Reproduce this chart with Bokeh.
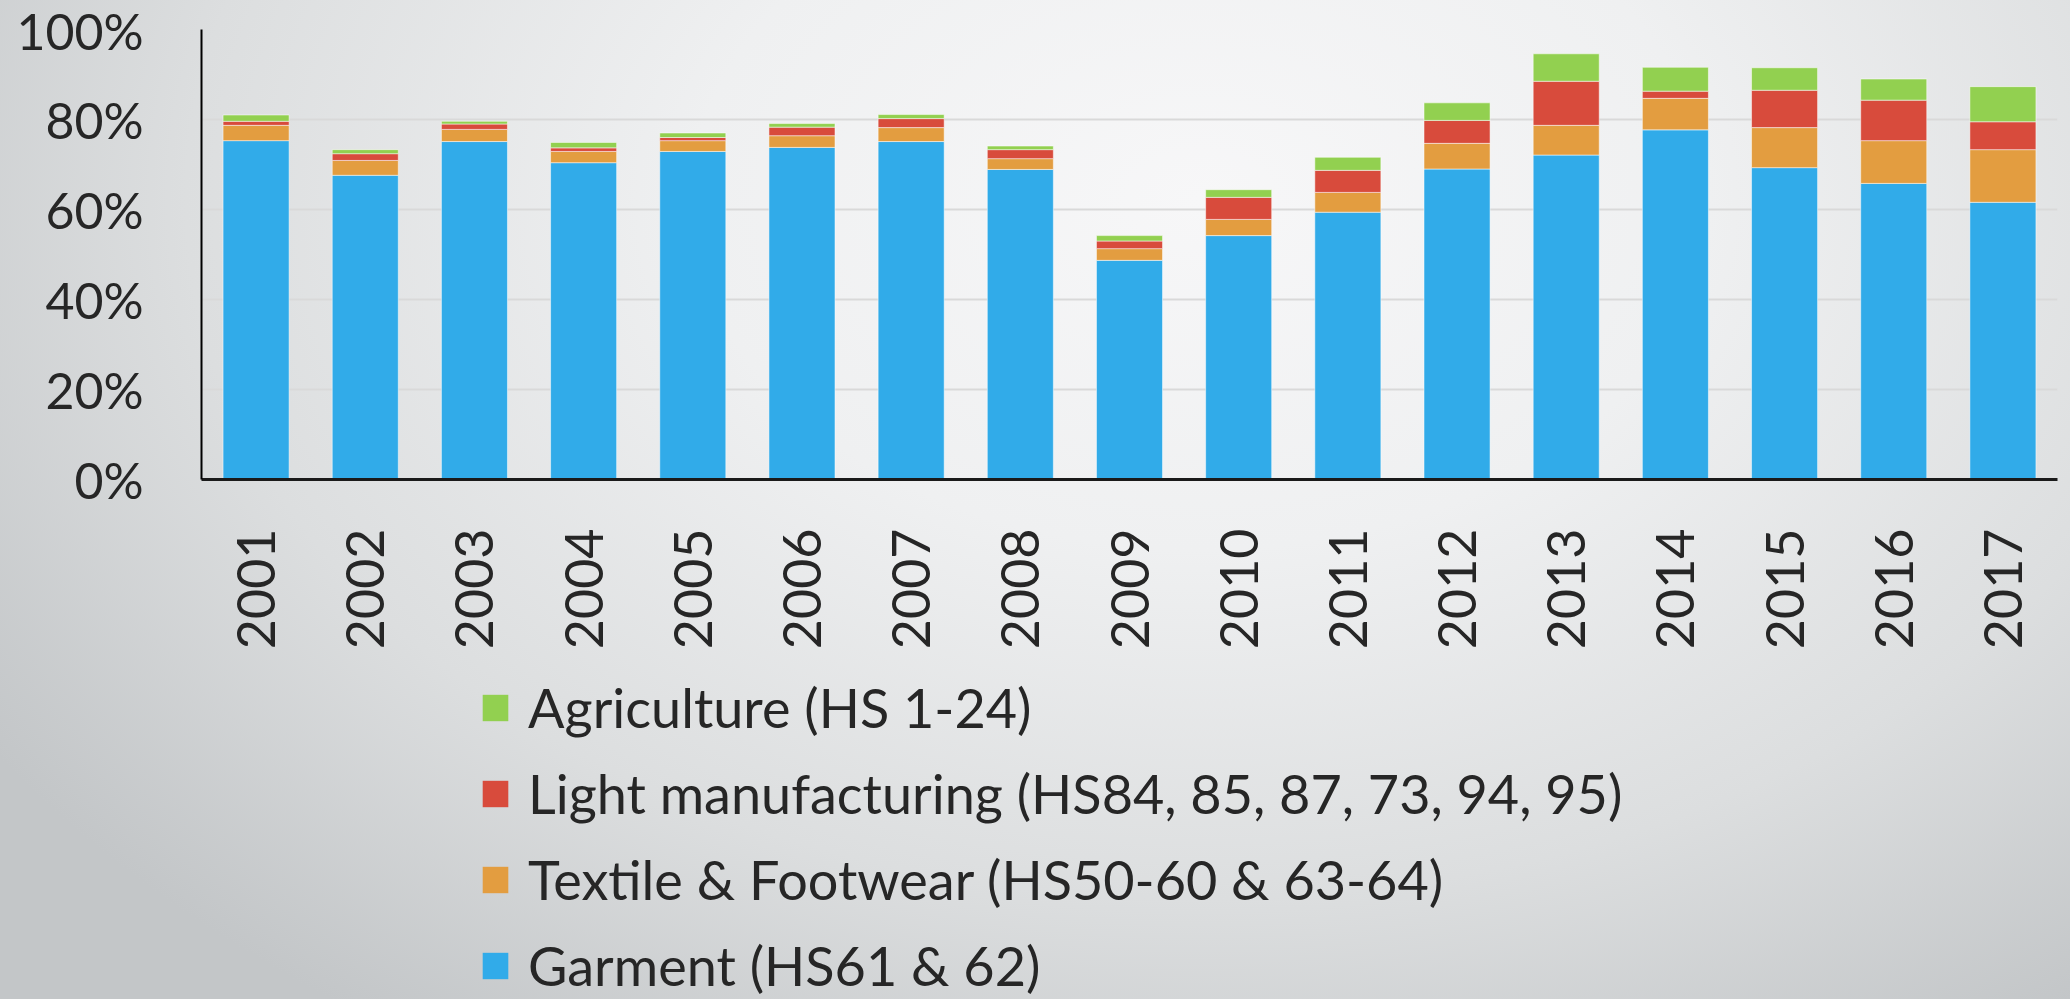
import math
from bokeh.plotting import figure
from bokeh.layouts import column
from bokeh.models import (FactorRange, Range1d, FixedTicker, PrintfTickFormatter,
                          Legend, LegendItem, InlineStyleSheet, ColumnDataSource)
from bokeh.embed import file_html
from bokeh.resources import INLINE

years = ["2001", "2002", "2003", "2004", "2005", "2006", "2007", "2008", "2009",
         "2010", "2011", "2012", "2013", "2014", "2015", "2016", "2017"]
garment = [75.3, 67.6, 75.1, 70.4, 72.9, 73.8, 75.1, 68.9, 48.7, 54.2, 59.4, 69.0, 72.1, 77.7, 69.3, 65.8, 61.6]
textile = [3.4, 3.3, 2.7, 2.5, 2.4, 2.6, 3.1, 2.4, 2.6, 3.6, 4.4, 5.7, 6.6, 7.0, 8.9, 9.5, 11.7]
light = [0.9, 1.5, 1.2, 0.8, 0.7, 1.9, 2.0, 2.0, 1.7, 4.9, 4.9, 5.1, 9.8, 1.6, 8.3, 9.0, 6.2]
agri = [1.4, 0.9, 0.6, 1.2, 1.0, 0.8, 0.9, 0.8, 1.2, 1.7, 2.9, 3.9, 6.1, 5.3, 5.0, 4.7, 7.8]

series = ["garment", "textile", "light", "agri"]
labels = ["Garment (HS61 & 62)", "Textile & Footwear (HS50-60 & 63-64)",
          "Light manufacturing (HS84, 85, 87, 73, 94, 95)", "Agriculture (HS 1-24)"]
colors = ["#31abe9", "#e39d40", "#d84b3c", "#92d050"]
y_ticks = [0, 20, 40, 60, 80, 100]

source = ColumnDataSource(dict(years=years, garment=garment, textile=textile, light=light, agri=agri))

FONT = "Lato"
TEXT = "#262626"
H1 = 670

css = InlineStyleSheet(css=""":host { background: radial-gradient(ellipse 70% 100% at 58% 20%,
  #f7f7f8 0%, #eff0f1 35%, #dcdedf 70%, #c3c6c8 100%); }""")

p = figure(x_range=FactorRange(*years, range_padding=0), y_range=Range1d(0, 100),
           width=2070, height=H1, output_backend="svg", toolbar_location=None,
           title=None, min_border_left=201, min_border_right=13, min_border_top=29,
           min_border_bottom=H1 - 479)
p.border_fill_color = None
p.background_fill_color = None
p.outline_line_color = None

rs = p.vbar_stack(series, x="years", width=0.605, color=colors, source=source,
                  line_color="white", line_alpha=0.5, line_width=1)

p.xgrid.grid_line_color = None
p.ygrid.grid_line_color = "#d9d9d9"
p.ygrid.grid_line_width = 2

p.yaxis.ticker = FixedTicker(ticks=y_ticks)
p.yaxis.formatter = PrintfTickFormatter(format="%d%%")
p.yaxis.axis_line_color = "black"
p.yaxis.axis_line_width = 2
p.yaxis.major_tick_line_color = None
p.yaxis.minor_tick_line_color = None
p.yaxis.major_label_standoff = 52
p.yaxis.major_label_text_font_size = "50px"
p.yaxis.major_label_text_font = FONT
p.yaxis.major_label_text_color = TEXT

p.xaxis.axis_line_color = "#1a1a1a"
p.xaxis.axis_line_width = 3
p.xaxis.major_tick_line_color = None
p.xaxis.minor_tick_line_color = None
p.xaxis.major_label_orientation = math.pi / 2
p.xaxis.major_label_standoff = 43
p.xaxis.major_label_text_font_size = "52px"
p.xaxis.major_label_text_font = FONT
p.xaxis.major_label_text_color = TEXT

# legend panel (separate canvas so the legend is not clipped by the chart frame);
# its stacked bars lie outside its y-range, only the legend keys show.
p2 = figure(x_range=p.x_range, y_range=Range1d(200, 300),
            width=2070, height=999 - H1, output_backend="svg", toolbar_location=None,
            title=None, x_axis_type=None, y_axis_type=None,
            min_border_left=0, min_border_right=0, min_border_top=0, min_border_bottom=0)
p2.border_fill_color = None
p2.background_fill_color = None
p2.outline_line_color = None
p2.xgrid.grid_line_color = None
p2.ygrid.grid_line_color = None

keys = p2.vbar_stack(series, x="years", width=0.605, color=colors, source=source,
                     line_color=None)

items = [LegendItem(label=labels[i], renderers=[keys[i]]) for i in [3, 2, 1, 0]]
legend = Legend(items=items, location=(278, 1), orientation="vertical",
                glyph_width=32, glyph_height=33, label_standoff=17, spacing=21,
                padding=0, margin=0, border_line_color=None, background_fill_alpha=0,
                label_text_font_size="54px", label_text_font=FONT, label_text_color=TEXT)
p2.add_layout(legend)

layout = column(p, p2, spacing=0)
layout.stylesheets = [css]

open("out.html", "w").write(file_html(layout, INLINE))
